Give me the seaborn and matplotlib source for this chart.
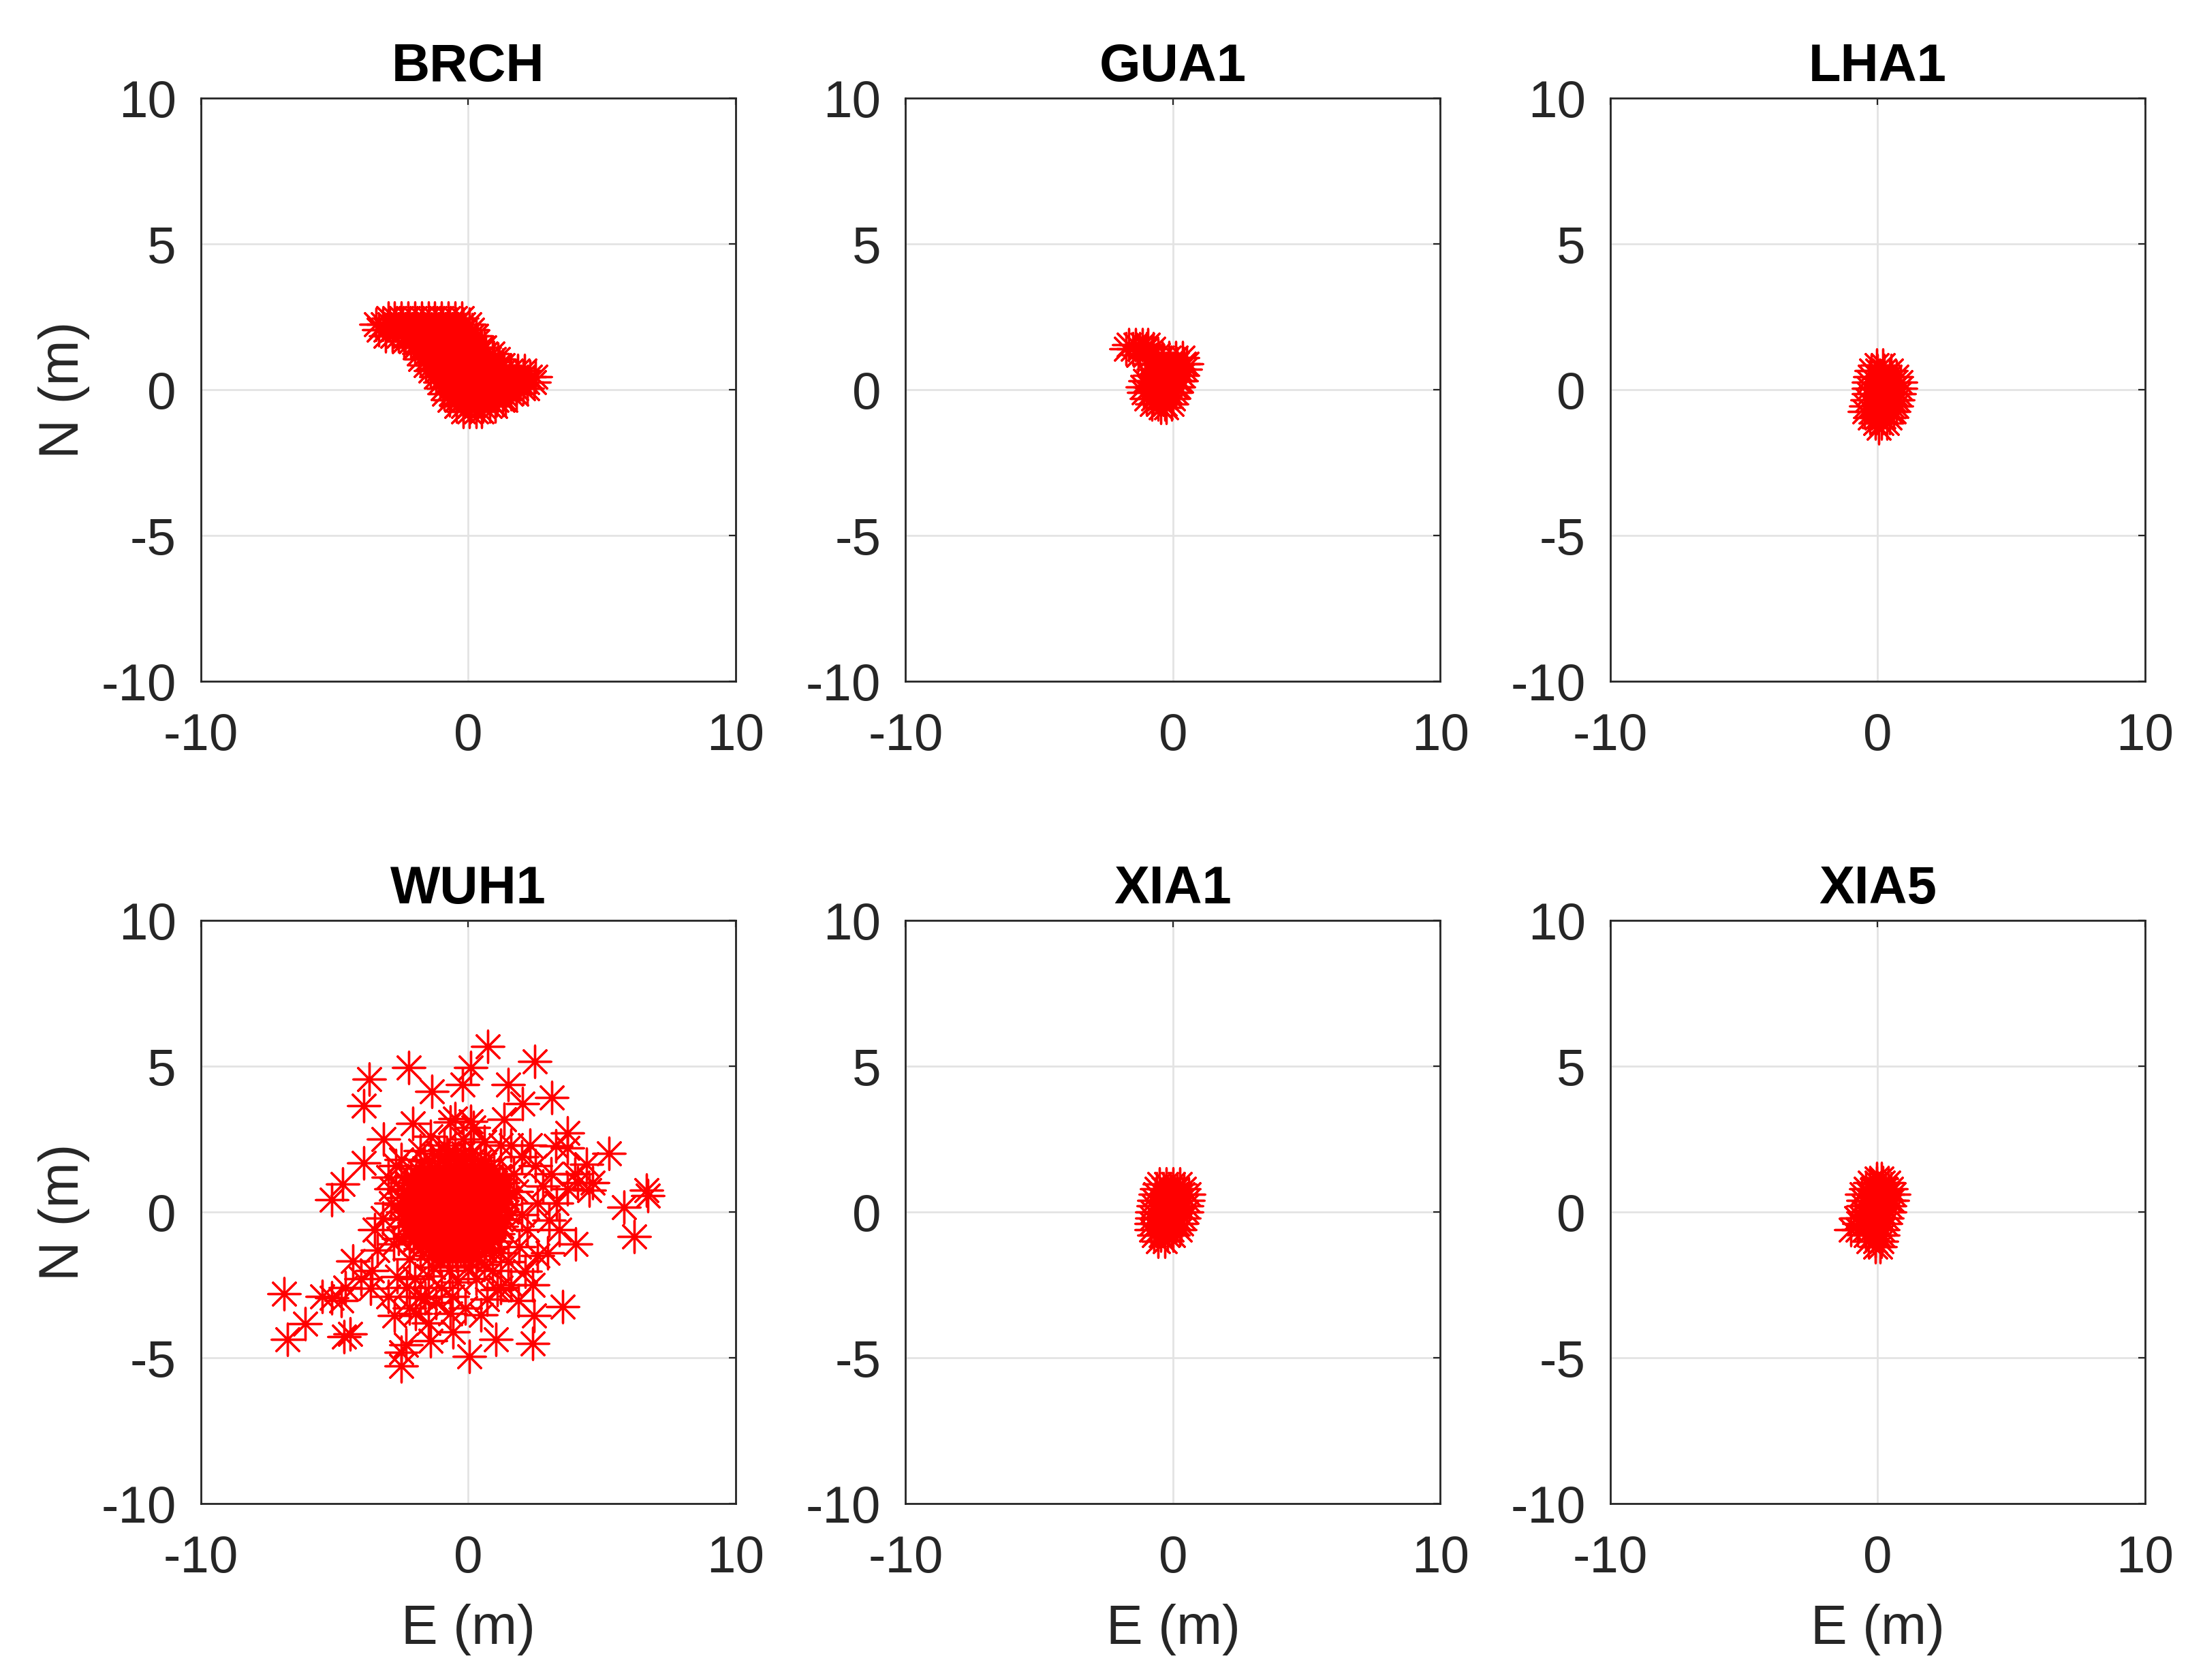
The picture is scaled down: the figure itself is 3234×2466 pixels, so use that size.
import matplotlib
matplotlib.use('Agg')
import matplotlib.pyplot as plt
import seaborn as sns
import pandas as pd

# 各站点名称
stations = ['BRCH', 'GUA1', 'LHA1', 'WUH1', 'XIA1', 'XIA5']

# 各站点的 E/N 偏差 (m)，从图上读取：按行记录 {N: [E, ...]}
brch_rows = {
    2.45: [-3.0, -2.75, -2.5, -2.25, -2.0, -1.75, -1.5, -1.25, -1.0, -0.75, -0.5, -0.25],
    2.25: [-3.45, -3.2, -2.95, -2.7, -2.45, -2.2, -1.95, -1.7, -1.45, -1.2, -0.95, -0.7, -0.45, -0.2, 0.05],
    2.05: [-3.35, -3.1, -2.85, -2.6, -2.35, -2.1, -1.85, -1.6, -1.35, -1.1, -0.85, -0.6, -0.35, -0.1, 0.15],
    1.85: [-3.1, -2.85, -2.6, -2.35, -2.1, -1.85, -1.6, -1.35, -1.1, -0.85, -0.6, -0.35, -0.1, 0.15, 0.3],
    1.65: [-2.4, -2.15, -1.9, -1.65, -1.4, -1.15, -0.9, -0.65, -0.4, -0.15, 0.1, 0.35],
    1.45: [-2.0, -1.75, -1.5, -1.25, -1.0, -0.75, -0.5, -0.25, 0.0, 0.25, 0.5, 0.6],
    1.25: [-1.85, -1.6, -1.35, -1.1, -0.85, -0.6, -0.35, -0.1, 0.15, 0.4, 0.65, 0.9],
    1.05: [-1.8, -1.55, -1.3, -1.05, -0.8, -0.55, -0.3, -0.05, 0.2, 0.45, 0.7, 0.95, 1.1],
    0.85: [-1.6, -1.35, -1.1, -0.85, -0.6, -0.35, -0.1, 0.15, 0.4, 0.65, 0.9, 1.15, 1.3],
    0.65: [-1.4, -1.15, -0.9, -0.65, -0.4, -0.15, 0.1, 0.35, 0.6, 0.85, 1.1, 1.35, 1.6, 1.85, 2.1],
    0.45: [-1.2, -0.95, -0.7, -0.45, -0.2, 0.05, 0.3, 0.55, 0.8, 1.05, 1.3, 1.55, 1.8, 2.05, 2.3, 2.5],
    0.25: [-1.05, -0.8, -0.55, -0.3, -0.05, 0.2, 0.45, 0.7, 0.95, 1.2, 1.45, 1.7, 1.95, 2.2, 2.45],
    0.05: [-0.95, -0.7, -0.45, -0.2, 0.05, 0.3, 0.55, 0.8, 1.05, 1.3, 1.55, 1.8, 2.05, 2.2],
    -0.15: [-0.9, -0.65, -0.4, -0.15, 0.1, 0.35, 0.6, 0.85, 1.1, 1.35, 1.6, 1.8],
    -0.35: [-0.7, -0.45, -0.2, 0.05, 0.3, 0.55, 0.8, 1.05, 1.3, 1.4],
    -0.55: [-0.45, -0.2, 0.05, 0.3, 0.55, 0.8, 1.0],
    -0.75: [-0.2, 0.05, 0.3, 0.5],
}

gua1_rows = {
    1.55: [-1.65, -1.4, -1.15, -0.95],
    1.4: [-1.75, -1.5, -1.25, -1.0, -0.75],
    1.2: [-1.3, -1.05, -0.8, -0.55],
    1.1: [-0.4, -0.15, 0.1, 0.35],
    0.9: [-0.85, -0.6, -0.35, -0.1, 0.15, 0.4, 0.5],
    0.7: [-0.75, -0.5, -0.25, 0.0, 0.25, 0.45],
    0.5: [-0.9, -0.65, -0.4, -0.15, 0.1, 0.35],
    0.3: [-1.05, -0.8, -0.55, -0.3, -0.05, 0.2, 0.3],
    0.1: [-1.15, -0.9, -0.65, -0.4, -0.15, 0.1, 0.2],
    -0.1: [-1.1, -0.85, -0.6, -0.35, -0.1, 0.1],
    -0.3: [-1.0, -0.75, -0.5, -0.25, 0.0],
    -0.5: [-0.8, -0.55, -0.3, -0.05],
    -0.6: [-0.45, -0.25],
}

lha1_rows = {
    0.85: [-0.05, 0.2],
    0.65: [-0.25, 0.0, 0.25, 0.5],
    0.45: [-0.3, -0.05, 0.2, 0.45, 0.7],
    0.25: [-0.35, -0.1, 0.15, 0.4, 0.65, 0.85],
    0.05: [-0.35, -0.1, 0.15, 0.4, 0.65, 0.85],
    -0.15: [-0.35, -0.1, 0.15, 0.4, 0.65, 0.8],
    -0.35: [-0.4, -0.15, 0.1, 0.35, 0.6, 0.75],
    -0.55: [-0.45, -0.2, 0.05, 0.3, 0.55, 0.7],
    -0.75: [-0.5, -0.25, 0.0, 0.25, 0.5, 0.6],
    -0.95: [-0.3, -0.05, 0.2, 0.45],
    -1.15: [-0.1, 0.15, 0.35],
    -1.3: [0.05],
}

wuh1_rows = {
    2.0: [-1.1, -0.8, -0.5, -0.2, 0.1],
    1.75: [-1.65, -1.35, -1.05, -0.75, -0.45, -0.15, 0.15, 0.45, 0.65],
    1.5: [-1.95, -1.65, -1.35, -1.05, -0.75, -0.45, -0.15, 0.15, 0.45, 0.75, 0.95],
    1.25: [-2.15, -1.85, -1.55, -1.25, -0.95, -0.65, -0.35, -0.05, 0.25, 0.55, 0.85, 1.15],
    1.0: [-2.3, -2.0, -1.7, -1.4, -1.1, -0.8, -0.5, -0.2, 0.1, 0.4, 0.7, 1.0, 1.3],
    0.75: [-2.4, -2.1, -1.8, -1.5, -1.2, -0.9, -0.6, -0.3, 0.0, 0.3, 0.6, 0.9, 1.2, 1.4],
    0.5: [-2.45, -2.15, -1.85, -1.55, -1.25, -0.95, -0.65, -0.35, -0.05, 0.25, 0.55, 0.85, 1.15, 1.45],
    0.25: [-2.5, -2.2, -1.9, -1.6, -1.3, -1.0, -0.7, -0.4, -0.1, 0.2, 0.5, 0.8, 1.1, 1.4],
    0.0: [-2.45, -2.15, -1.85, -1.55, -1.25, -0.95, -0.65, -0.35, -0.05, 0.25, 0.55, 0.85, 1.15, 1.45],
    -0.25: [-2.4, -2.1, -1.8, -1.5, -1.2, -0.9, -0.6, -0.3, 0.0, 0.3, 0.6, 0.9, 1.2, 1.4],
    -0.5: [-2.35, -2.05, -1.75, -1.45, -1.15, -0.85, -0.55, -0.25, 0.05, 0.35, 0.65, 0.95, 1.25],
    -0.75: [-2.2, -1.9, -1.6, -1.3, -1.0, -0.7, -0.4, -0.1, 0.2, 0.5, 0.8, 1.1],
    -1.0: [-2.05, -1.75, -1.45, -1.15, -0.85, -0.55, -0.25, 0.05, 0.35, 0.65, 0.95],
    -1.25: [-1.8, -1.5, -1.2, -0.9, -0.6, -0.3, 0.0, 0.3, 0.6, 0.8],
    -1.5: [-1.35, -1.05, -0.75, -0.45, -0.15, 0.15, 0.35],
}

# WUH1 核心外围与离散点 (E, N)
wuh1_extra = [
    (-3.0, 1.2), (-2.9, 0.3), (-3.2, -0.2), (-2.8, -1.1), (-3.4, -1.3), (-2.2, -1.6),
    (-3.6, -2.0), (-4.0, -2.3), (-4.6, -2.6), (-2.0, -2.3), (-1.5, -2.2), (-1.0, -2.6),
    (-0.4, -2.4), (0.3, -2.3), (0.9, -2.0), (1.5, -1.7), (1.9, -1.2), (2.2, -0.6),
    (2.6, 0.3), (2.8, 0.9), (3.1, 1.3), (2.5, 1.6), (1.6, 2.3), (2.0, 1.9), (1.2, 2.3),
    (0.6, 2.4), (-0.2, 2.5), (-0.9, 2.3), (-1.8, 2.1), (-2.5, 1.8), (3.3, 0.3), (3.7, 0.8),
    (4.0, 1.3), (3.4, -0.6), (-1.8, -2.9), (-1.2, -3.1), (-0.6, -2.9), (1.2, -2.6),
    (1.6, -2.5), (-2.3, -2.6), (3.7, 2.2), (4.1, 1.0), (-2.2, -3.3), (2.6, -1.5),
    (-1.3, -1.9), (-0.7, -2.0), (0.0, -1.9), (0.6, -1.8), (1.2, -1.4), (-2.6, -0.9),
    (-2.9, 0.8), (-2.7, 1.6), (1.8, 0.7), (2.0, -0.1), (1.7, 1.3), (2.3, 2.3),
    (-1.4, 2.6), (0.2, 2.9), (-0.5, 3.2), (2.4, -2.5), (-0.1, -3.3), (0.7, -3.0),
    (-3.0, -2.9), (-1.5, -3.8),
    (0.73, 5.68), (2.48, 5.16), (-2.23, 4.95), (-3.70, 4.56), (-3.91, 3.64), (-1.35, 4.13),
    (0.1, 4.96), (-0.21, 4.38), (1.49, 4.38), (3.13, 3.93), (-2.08, 3.03), (-3.18, 2.50),
    (-0.68, 3.08), (0.10, 3.12), (1.35, 3.17), (2.03, 3.71), (3.70, 2.72), (5.26, 2.00),
    (4.43, 1.64), (6.67, 0.75), (6.72, 0.57), (5.83, 0.16), (6.20, -0.83), (4.01, -1.10),
    (3.54, -3.25), (2.40, -4.51), (0.05, -4.96), (-2.50, -5.27), (-2.50, -4.82),
    (-4.64, -4.28), (-4.43, -4.19), (-6.77, -4.37), (-6.09, -3.83), (-6.88, -2.80),
    (-5.47, -2.89), (-5.10, -2.94), (-4.74, -3.03), (-5.10, 0.43), (-4.69, 0.97),
    (-3.91, 1.69), (1.04, -4.37), (-0.57, -4.10), (-1.41, -4.42), (-1.98, -3.47),
    (-0.68, -3.47), (0.47, -3.52), (2.45, -3.56), (1.88, -3.03), (2.97, -1.41),
    (3.02, -0.29), (3.28, 2.27), (4.53, 0.75), (4.64, 1.01), (-3.65, -2.62),
    (-4.32, -1.68), (-3.49, -0.60), (2.14, -2.04), (1.09, -2.67), (-2.66, -2.22),
    (-1.61, -2.94), (-2.76, -3.56), (-2.34, -4.55),
]

xia1_rows = {
    0.97: [-0.5, -0.25, 0.0, 0.25],
    0.8: [-0.6, -0.35, -0.1, 0.15, 0.4],
    0.6: [-0.65, -0.4, -0.15, 0.1, 0.35, 0.6],
    0.4: [-0.7, -0.45, -0.2, 0.05, 0.3, 0.55],
    0.2: [-0.75, -0.5, -0.25, 0.0, 0.25, 0.5],
    0.0: [-0.8, -0.55, -0.3, -0.05, 0.2, 0.5],
    -0.2: [-0.8, -0.55, -0.3, -0.05, 0.2, 0.4],
    -0.4: [-0.82, -0.6, -0.35, -0.1, 0.15, 0.3],
    -0.6: [-0.82, -0.55, -0.3, -0.05, 0.25],
    -0.8: [-0.7, -0.45, -0.2, 0.0],
    -1.0: [-0.55, -0.3],
}

xia5_rows = {
    1.15: [-0.05, 0.15],
    1.0: [-0.3, -0.05, 0.2, 0.4],
    0.8: [-0.45, -0.2, 0.05, 0.3, 0.5],
    0.6: [-0.6, -0.35, -0.1, 0.15, 0.4, 0.6],
    0.4: [-0.55, -0.3, -0.05, 0.2, 0.45, 0.55],
    0.2: [-0.55, -0.3, -0.05, 0.2, 0.45],
    0.0: [-0.55, -0.3, -0.05, 0.2, 0.45],
    -0.2: [-0.8, -0.6, -0.35, -0.1, 0.15, 0.35],
    -0.4: [-0.7, -0.45, -0.2, 0.05, 0.3],
    -0.6: [-1.0, -0.75, -0.5, -0.25, 0.0, 0.2],
    -0.8: [-0.45, -0.2, 0.05, 0.2],
    -1.0: [-0.35, -0.1, 0.15],
    -1.2: [-0.1, 0.1],
}

# 坐标轴刻度
xticks = [-10, 0, 10]
yticks = [-10, -5, 0, 5, 10]


def rows_to_df(rows, extra=None):
    pts = [(e, n) for n, es in rows.items() for e in es]
    if extra:
        pts += list(extra)
    return pd.DataFrame(pts, columns=['E', 'N'])


data = {
    'BRCH': rows_to_df(brch_rows),
    'GUA1': rows_to_df(gua1_rows),
    'LHA1': rows_to_df(lha1_rows),
    'WUH1': rows_to_df(wuh1_rows, wuh1_extra),
    'XIA1': rows_to_df(xia1_rows),
    'XIA5': rows_to_df(xia5_rows),
}

sns.set_theme(style='white')
plt.rcParams['font.family'] = ['Liberation Sans', 'DejaVu Sans']

fig, axes = plt.subplots(2, 3, figsize=(32.34, 24.66), dpi=100)
fig.subplots_adjust(left=0.0912, right=0.9737, top=0.9416, bottom=0.105,
                    wspace=0.318, hspace=0.41)
axes = axes.flatten()

for i, name in enumerate(stations):
    ax = axes[i]
    sns.scatterplot(data=data[name], x='E', y='N', ax=ax, marker=(8, 2, 0), s=1150,
                    color='#ff0000', linewidth=2.4, zorder=3, legend=False)

    ax.set_xlim(-10, 10)
    ax.set_ylim(-10, 10)
    ax.set_xticks(xticks)
    ax.set_yticks(yticks)
    ax.set_xticklabels([str(t) for t in xticks])
    ax.set_yticklabels([str(t) for t in yticks])
    ax.grid(True, color='#e3e3e3', linewidth=2.0, zorder=0)
    ax.set_axisbelow(True)
    ax.tick_params(axis='both', direction='in', length=7, width=1.6,
                   top=True, right=True, labelsize=55, colors='#262626')
    ax.tick_params(axis='x', pad=33)
    ax.tick_params(axis='y', pad=26)
    for sp in ax.spines.values():
        sp.set_visible(True)
        sp.set_color('#262626')
        sp.set_linewidth(2.0)

    ax.set_title(name, fontsize=56, fontweight='bold', pad=18, color='black')

    if i % 3 == 0:
        ax.set_ylabel('N (m)', fontsize=58, color='#262626', labelpad=12)
    else:
        ax.set_ylabel('')
    if i >= 3:
        ax.set_xlabel('E (m)', fontsize=58, color='#262626', labelpad=22)
    else:
        ax.set_xlabel('')

plt.savefig('out.png', dpi=100)
plt.close(fig)
